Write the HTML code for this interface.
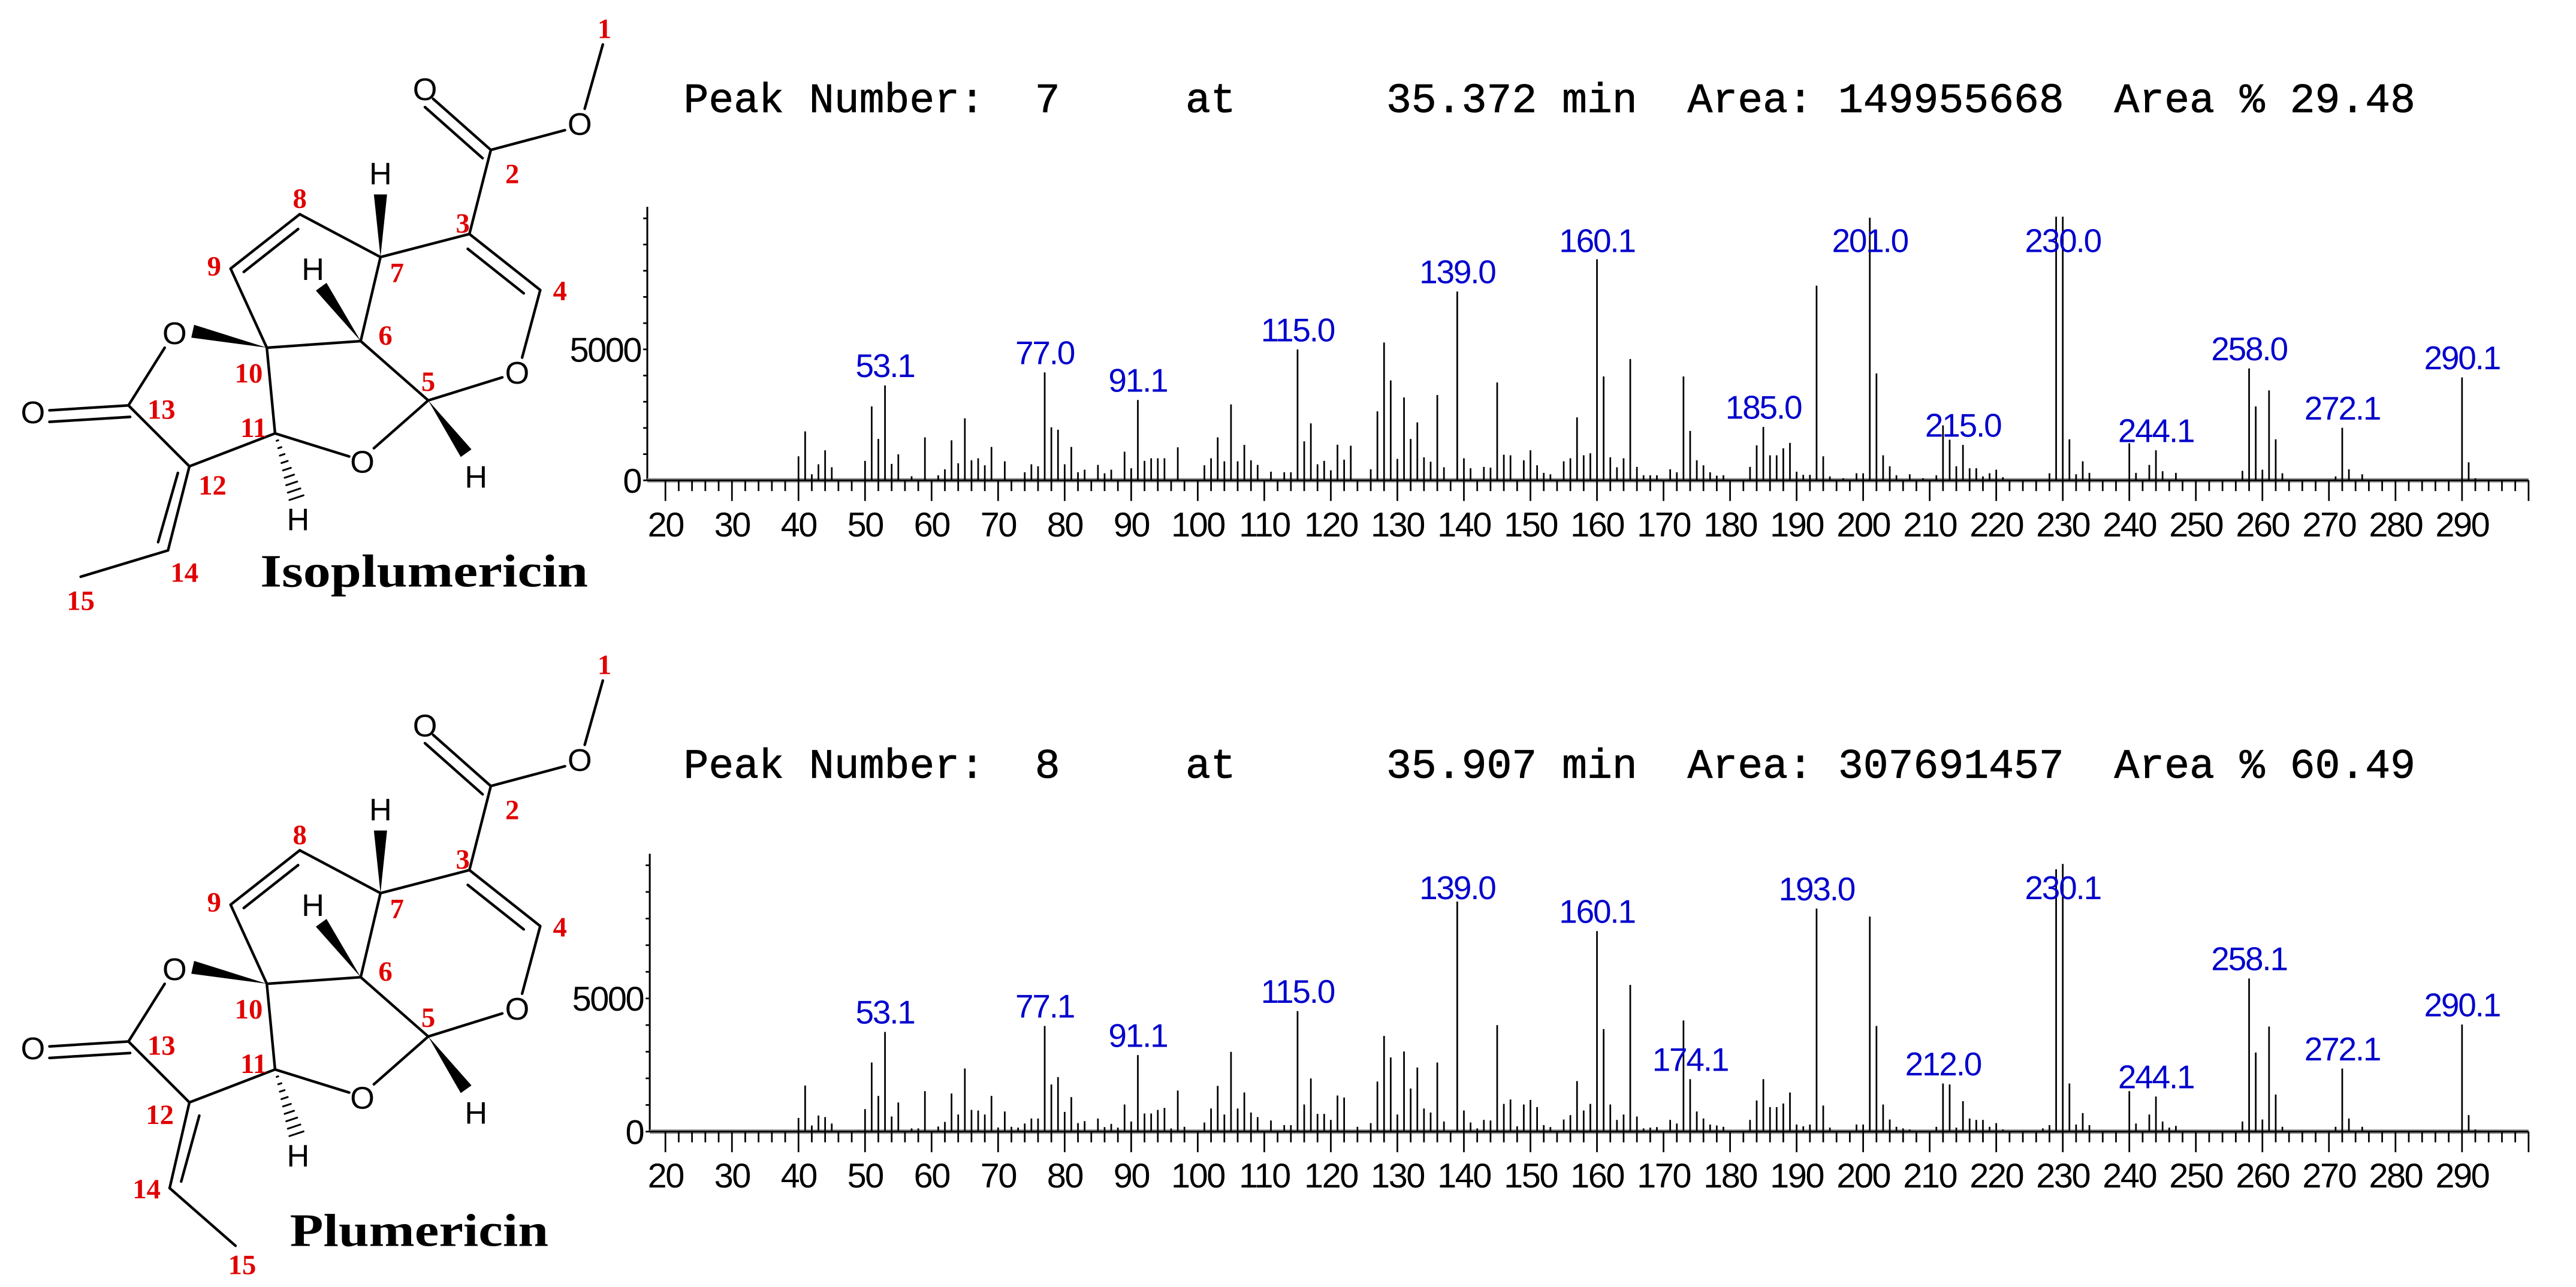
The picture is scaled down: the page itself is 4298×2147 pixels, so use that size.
<!DOCTYPE html>
<html><head><meta charset="utf-8"><title>Isoplumericin and Plumericin mass spectra</title>
<style>
html,body{margin:0;padding:0;background:#fff;}
svg{display:block;}
.hdr{font-family:"Liberation Mono",monospace;font-size:25.4px;fill:#000;stroke:#000;stroke-width:0.3px;white-space:pre;}
.tick{font-family:"Liberation Sans",sans-serif;font-size:21px;fill:#000;letter-spacing:-0.9px;}
.pl{font-family:"Liberation Sans",sans-serif;font-size:20px;fill:#0000cc;letter-spacing:-0.8px;}
.atom{font-family:"Liberation Sans",sans-serif;font-size:19px;fill:#000;}
.num{font-family:"Liberation Serif",serif;font-size:17px;font-weight:bold;fill:#e00000;}
.mname{font-family:"Liberation Serif",serif;font-size:28px;font-weight:bold;fill:#000;}
</style></head>
<body>
<svg id="fig" xmlns="http://www.w3.org/2000/svg" width="4298" height="2147" viewBox="0 0 1564 781" preserveAspectRatio="none">
<rect x="0" y="0" width="1564" height="781" fill="#fff"/>
<text class="hdr" x="415" y="68" xml:space="preserve">Peak Number:  7     at      35.372 min  Area: 149955668  Area % 29.48</text>
<text class="hdr" x="415" y="472" xml:space="preserve">Peak Number:  8     at      35.907 min  Area: 307691457  Area % 60.49</text>
<g id="topChart"></g>
<g id="botChart"></g>
<g id="mol1"></g>
<g id="mol2" transform="translate(0,386)"></g>
</svg>
<script>
const topMz=[40,41,42,43,44,45,50,51,52,53,54,55,57,59,61,62,63,64,65,66,67,68,69,71,74,75,76,77,78,79,80,81,82,83,85,86,87,89,90,91,92,93,94,95,97,101,102,103,104,105,106,107,108,109,111,113,114,115,116,117,118,119,120,121,122,123,126,127,128,129,130,131,132,133,134,135,136,137,139,140,141,143,144,145,146,147,149,150,151,152,153,155,156,157,158,159,160,161,162,163,164,165,166,167,168,169,171,172,173,174,175,176,177,178,179,183,184,185,186,187,188,189,190,191,192,193,194,195,197,199,200,201,202,203,204,205,207,209,211,212,213,214,215,216,217,218,219,220,221,228,229,230,231,232,233,234,240,241,243,244,245,247,257,258,259,260,261,262,263,271,272,273,275,290,291,292];
const topIntensity=[918,1871,232,613,1147,499,743,2823,1581,3623,628,994,156,1642,194,423,1528,652,2366,766,842,575,1276,728,309,613,537,4119,2023,1932,613,1276,309,407,590,271,407,1093,461,3067,743,842,842,842,1261,575,842,1642,728,2899,728,1353,766,590,331,309,309,4995,1490,2175,613,743,385,1360,789,1322,423,2633,5261,3814,819,3166,1581,2214,880,712,3257,499,7205,842,461,514,484,3738,979,956,766,1147,575,286,232,728,842,2404,956,1032,8439,3966,880,499,842,4629,514,194,194,194,423,309,3966,1886,766,575,309,179,194,514,1337,2038,956,956,1223,1429,331,210,210,7433,918,150,80,271,271,10024,4080,956,537,194,232,80,194,2099,1551,537,1353,461,461,150,271,407,120,271,10062,10062,1566,232,728,286,1414,286,590,1147,347,286,362,4271,2823,407,3433,1566,271,150,2008,423,232,3928,689,80];
const topLabelMz=[53,77,91,115,139,160,185,201,215,230,244,258,272,290];
const topLabelText=["53.1","77.0","91.1","115.0","139.0","160.1","185.0","201.0","215.0","230.0","244.1","258.0","272.1","290.1"];

const bottomMz=[40,41,42,43,44,45,49,50,51,52,53,54,55,57,58,59,61,62,63,64,65,66,67,68,69,70,71,72,73,74,75,76,77,78,79,80,81,82,83,85,86,87,88,89,90,91,92,93,94,95,96,97,98,101,102,103,104,105,106,107,108,109,111,113,114,115,116,117,118,119,120,121,122,124,126,127,128,129,130,131,132,133,134,135,136,137,139,140,141,142,143,144,145,146,147,148,149,150,151,152,153,155,156,157,158,159,160,161,162,163,164,165,166,167,168,169,171,172,173,174,175,176,177,178,179,183,184,185,186,187,188,189,190,191,192,193,194,195,199,200,201,202,203,204,205,206,207,211,212,213,214,215,216,217,218,219,220,221,227,228,229,230,231,232,233,234,240,241,243,244,245,246,247,257,258,259,260,261,262,263,271,272,273,275,290,291,292];
const bottomIntensity=[514,1731,229,605,545,304,41,845,2595,1340,3744,567,1093,120,120,1521,191,364,1431,642,2369,815,792,642,1340,154,755,180,150,304,492,492,3969,1769,2047,740,1295,319,394,492,170,289,150,1018,379,2872,680,680,815,890,120,1543,180,342,867,1716,642,2993,867,1468,717,545,417,244,244,4525,1018,1994,665,665,439,1355,1280,180,319,1881,3594,2782,642,3008,1618,2407,867,717,2595,379,8640,792,342,120,439,417,3999,1040,1205,200,1018,1190,920,244,170,454,620,1896,792,1040,7529,3849,1018,439,642,5509,567,120,150,170,439,304,4172,1971,755,492,266,229,180,439,1168,1971,920,920,1055,1468,266,200,266,8378,980,150,266,266,8077,3969,1018,454,180,120,80,180,1806,1769,150,1145,492,439,439,180,319,80,120,244,9850,10050,1806,266,695,244,1521,304,642,1318,379,150,214,379,5749,2970,454,3946,1393,180,180,2369,492,180,4022,620,80];
const bottomLabelMz=[53,77,91,115,139,160,174,193,212,230,244,258,272,290];
const bottomLabelText=["53.1","77.1","91.1","115.0","139.0","160.1","174.1","193.0","212.0","230.1","244.1","258.1","272.1","290.1"];

const xTickValues=[20,30,40,50,60,70,80,90,100,110,120,130,140,150,160,170,180,190,200,210,220,230,240,250,260,270,280,290];
const yTickValues=[0,5000];

const NS="http://www.w3.org/2000/svg";
function mk(parent,tag,attrs){const e=document.createElementNS(NS,tag);for(const k in attrs)e.setAttribute(k,attrs[k]);parent.appendChild(e);return e;}

function drawChart(g,base,pxPer5000,axisX,mzArr,intArr,labMz,labText,prefix){
  const xS=m=>404+(m-20)*4.04;
  const yS=v=>base-v*pxPer5000/5000;
  const axisTop=yS(10000)-7;
  const ya=mk(g,'line',{x1:axisX,y1:axisTop,x2:axisX,y2:base,stroke:'#000','stroke-width':1.1});
  
  
  for(let v=0;v<=10000;v+=1000){
    const t=mk(g,'line',{x1:axisX-2.5,y1:yS(v),x2:axisX,y2:yS(v),stroke:'#000','stroke-width':1});
    
    
  }
  yTickValues.forEach(v=>{
    const t=mk(g,'text',{x:axisX-4,y:yS(v)+7.5,'text-anchor':'end',class:'tick'});
    t.textContent=String(v);
    
    
  });
  mk(g,'line',{x1:axisX,y1:base,x2:xS(300),y2:base,stroke:'#888','stroke-width':2.6});
  const xa=mk(g,'line',{x1:axisX,y1:base,x2:xS(300),y2:base,stroke:'#000','stroke-width':1});
  
  
  for(let m=20;m<=300;m+=2){
    const major=(m%10===0);
    const t=mk(g,'line',{x1:xS(m),y1:base,x2:xS(m),y2:base+(major?12.5:6.5),stroke:'#000','stroke-width':1});
    
    
  }
  xTickValues.forEach(v=>{
    const t=mk(g,'text',{x:xS(v),y:base+34,'text-anchor':'middle',class:'tick'});
    t.textContent=String(v);
    
    
  });
  for(let i=0;i<mzArr.length;i++){
    const b=mk(g,'line',{x1:xS(mzArr[i]),y1:base,x2:xS(mzArr[i]),y2:yS(intArr[i]),stroke:'#000','stroke-width':1});
    
    
  }
  const clampY=yS(10000)+20.5;
  for(let i=0;i<labMz.length;i++){
    const idx=mzArr.indexOf(labMz[i]);
    const top=idx>=0?yS(intArr[idx]):base;
    const by=Math.max(clampY,top-5);
    const t=mk(g,'text',{x:xS(labMz[i]),y:by,'text-anchor':'middle',class:'pl'});
    t.textContent=labText[i];
    
    
  }
}
drawChart(document.getElementById('topChart'),291.5,79.5,393,topMz,topIntensity,topLabelMz,topLabelText,'top');
drawChart(document.getElementById('botChart'),686.7,80.8,394.5,bottomMz,bottomIntensity,bottomLabelMz,bottomLabelText,'bottom');

function drawMolecule(g,variant){
  const L=(x1,y1,x2,y2)=>mk(g,'line',{x1,y1,x2,y2,stroke:'#000','stroke-width':1.6,'stroke-linecap':'round'});
  const wedge=(x1,y1,x2,y2,w)=>{const dx=x2-x1,dy=y2-y1,l=Math.hypot(dx,dy),px=-dy/l*w/2,py=dx/l*w/2;
    mk(g,'polygon',{points:`${x1},${y1} ${x2+px},${y2+py} ${x2-px},${y2-py}`,fill:'#000'});};
  const hash=(x1,y1,x2,y2,w)=>{const dx=x2-x1,dy=y2-y1,l=Math.hypot(dx,dy),nx=-dy/l,ny=dx/l;
    for(let k=1;k<=9;k++){const f=k/9,cx=x1+dx*f,cy=y1+dy*f,hw=w/2*f;L(cx-nx*hw,cy-ny*hw,cx+nx*hw,cy+ny*hw).setAttribute('stroke-width',1.1);}};
  const T=(x,y,s,cls)=>{const t=mk(g,'text',{x,y,'text-anchor':'middle',class:cls,dy:'0.36em'});t.textContent=s;return t;};
  L(366,27,355,66); L(343,79,298,91);
  L(298,91,263,60); L(293,96,258,65);
  L(298,91,285,142);
  L(285,142,328,176); L(284,151,318,178);
  L(328,176,317,217); L(305,229,260,243);
  L(260,243,227,272); L(212,277,167,263);
  L(167,263,115,283); L(115,283,78,246);
  L(78,246,30,249); L(79,253,30,256);
  L(78,246,100,211);
  wedge(162,211,117,201,8);
  L(162,211,167,263); L(162,211,140,163);
  L(140,163,182,130); L(148,165,181,139);
  L(182,130,231,156); L(231,156,285,142);
  L(231,156,219,207); L(219,207,162,211); L(219,207,260,243);
  wedge(231,156,231,118,8); wedge(219,207,195,174,8); wedge(260,243,283,275,8);
  hash(167,263,180,302,9);
  if(variant===1){L(115,283,102,334);L(108,287,96,329);L(102,334,49,350);}
  else{L(115,283,103,335);L(121,291,110,331);L(103,335,143,370);}
  [[352,75],[258,54],[314,226],[220,280],[106,202],[20,250]].forEach(p=>T(p[0],p[1],'O','atom'));
  [[231,105],[190,163],[289,289],[181,315]].forEach(p=>T(p[0],p[1],'H','atom'));
  const nums=variant===1?
   [[367,17,'1'],[311,105,'2'],[281,135,'3'],[340,176,'4'],[260,231,'5'],[234,203,'6'],[241,165,'7'],[182,120,'8'],[130,161,'9'],[151,226,'10'],[154,259,'11'],[129,294,'12'],[98,248,'13'],[112,347,'14'],[49,364,'15']]:
   [[367,17,'1'],[311,105,'2'],[281,135,'3'],[340,176,'4'],[260,231,'5'],[234,203,'6'],[241,165,'7'],[182,120,'8'],[130,161,'9'],[151,226,'10'],[154,259,'11'],[97,290,'12'],[98,248,'13'],[89,335,'14'],[147,381,'15']];
  nums.forEach(n=>T(n[0],n[1],n[2],'num'));
  const nm=mk(g,'text',variant===1?{x:158,y:356,class:'mname',textLength:199,lengthAdjust:'spacingAndGlyphs'}:{x:176,y:370,class:'mname',textLength:157,lengthAdjust:'spacingAndGlyphs'});
  nm.textContent=variant===1?'Isoplumericin':'Plumericin';
  
  
}
drawMolecule(document.getElementById('mol1'),1);
drawMolecule(document.getElementById('mol2'),2);
</script>
</body></html>
